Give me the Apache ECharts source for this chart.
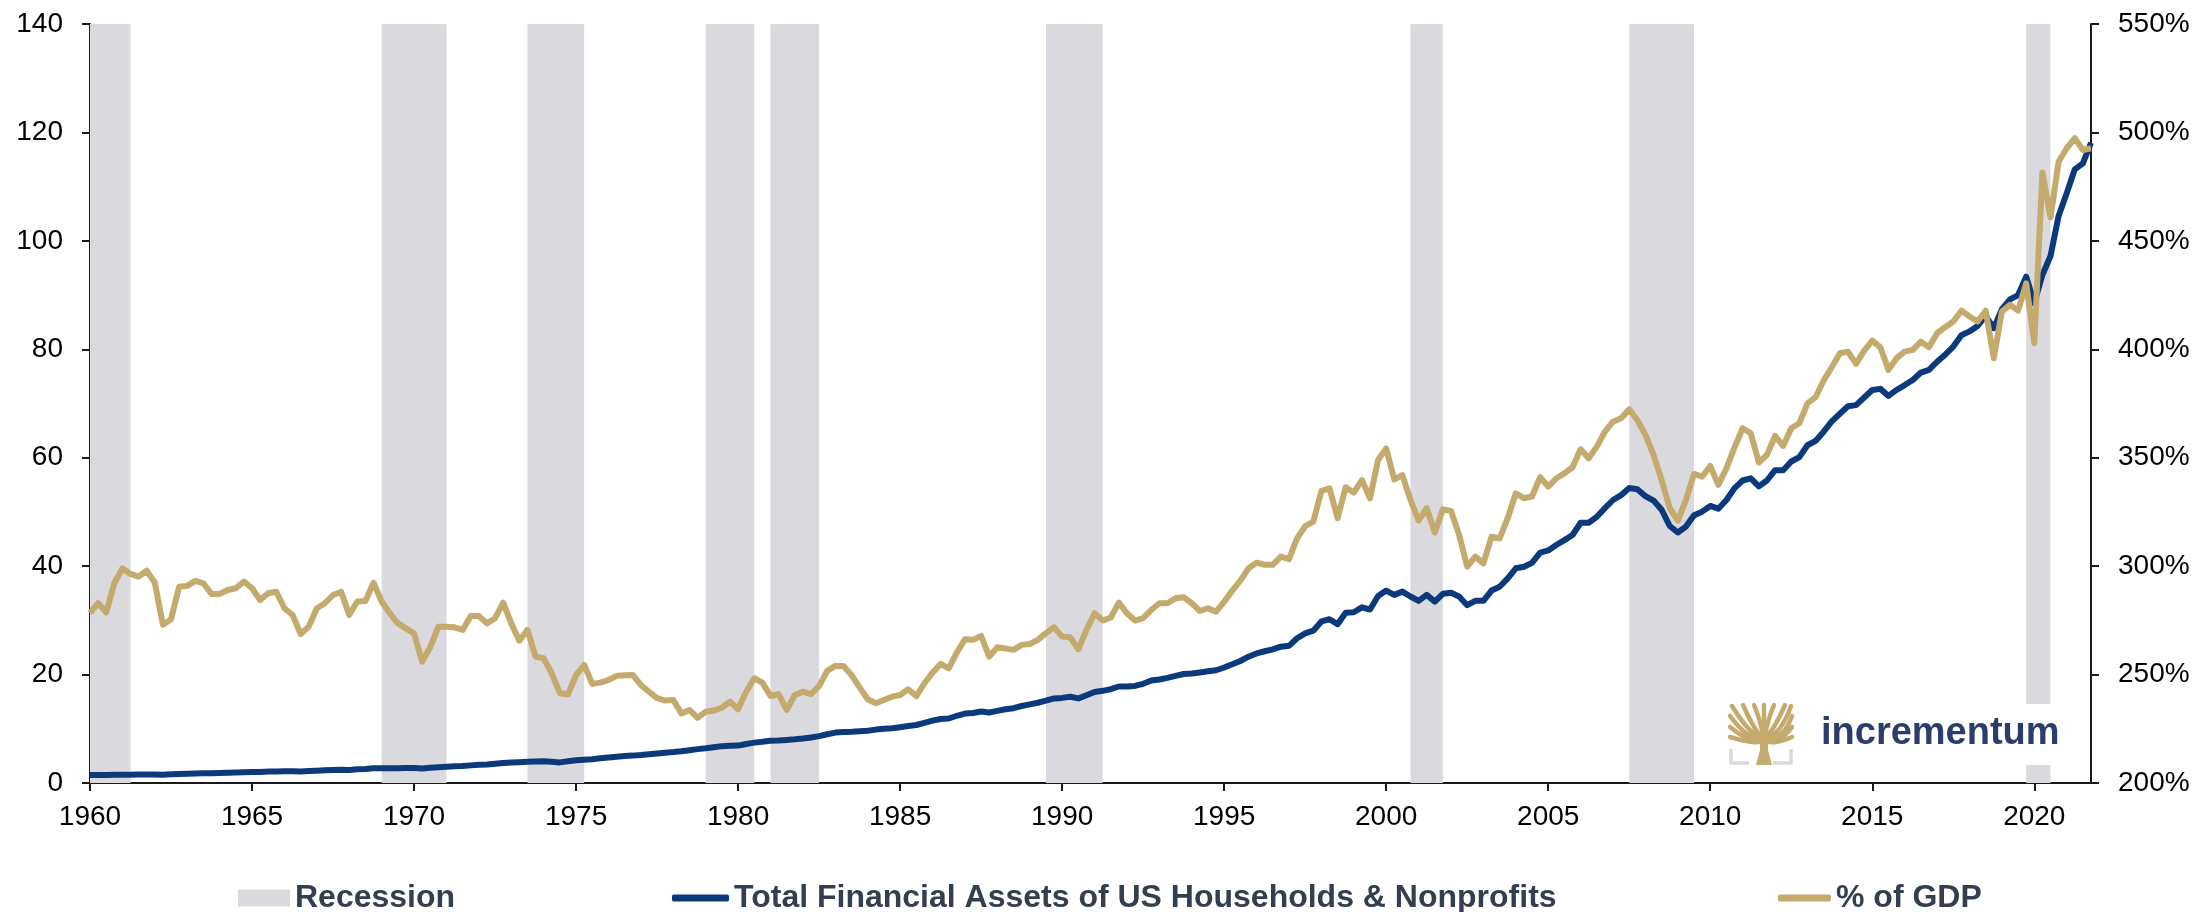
<!DOCTYPE html>
<html>
<head>
<meta charset="utf-8">
<title>Total Financial Assets of US Households &amp; Nonprofits</title>
<script src="https://cdn.jsdelivr.net/npm/echarts@6/dist/echarts.min.js"></script>
<style>
    html, body { margin: 0; padding: 0; background: #fff; }
    #chart { width: 2198px; height: 912px; }
</style>
</head>
<body>
<div id="chart"></div>
<script>
// quarterly observations, 1960Q1 .. 2021Q4
const startYear = 1960;

// total financial assets, USD trillions (left axis)
const assets = [
    1.48, 1.48, 1.48, 1.5, 1.52, 1.54, 1.55, 1.57, 1.58, 1.5,
    1.6, 1.68, 1.72, 1.76, 1.8, 1.82, 1.85, 1.9, 1.94, 2.0,
    2.05, 2.05, 2.1, 2.12, 2.15, 2.17, 2.12, 2.2, 2.28, 2.34,
    2.4, 2.45, 2.4, 2.52, 2.58, 2.7, 2.72, 2.74, 2.74, 2.76,
    2.78, 2.68, 2.8, 2.9, 3.0, 3.08, 3.12, 3.25, 3.35, 3.4,
    3.55, 3.7, 3.8, 3.85, 3.9, 3.95, 4.0, 3.9, 3.8, 4.0,
    4.2, 4.3, 4.4, 4.55, 4.7, 4.85, 5.0, 5.05, 5.15, 5.3,
    5.45, 5.6, 5.7, 5.85, 6.05, 6.25, 6.4, 6.6, 6.8, 6.85,
    6.9, 7.2, 7.45, 7.6, 7.8, 7.85, 7.95, 8.05, 8.2, 8.4,
    8.65, 9.0, 9.3, 9.4, 9.45, 9.55, 9.65, 9.85, 10.0, 10.1,
    10.3, 10.5, 10.7, 11.1, 11.5, 11.8, 11.9, 12.4, 12.8, 12.9,
    13.2, 13.0, 13.3, 13.6, 13.8, 14.2, 14.5, 14.8, 15.2, 15.6,
    15.7, 15.9, 15.6, 16.2, 16.8, 17.0, 17.3, 17.8, 17.8, 17.9,
    18.3, 18.9, 19.1, 19.4, 19.75, 20.1, 20.2, 20.4, 20.6, 20.8,
    21.3, 21.9, 22.5, 23.3, 23.9, 24.3, 24.66, 25.15, 25.3, 26.7,
    27.6, 28.1, 29.8, 30.2, 29.3, 31.4, 31.5, 32.4, 32.0, 34.5,
    35.5, 34.7, 35.3, 34.4, 33.6, 34.7, 33.45, 34.9, 35.1, 34.4,
    32.8, 33.6, 33.6, 35.5, 36.2, 37.75, 39.6, 39.9, 40.6, 42.5,
    42.9, 43.9, 44.8, 45.75, 48.0, 48.0, 49.1, 50.7, 52.2, 53.1,
    54.4, 54.2, 52.9, 52.1, 50.4, 47.4, 46.2, 47.3, 49.4, 50.05,
    51.1, 50.6, 52.2, 54.4, 55.8, 56.2, 54.7, 55.8, 57.7, 57.7,
    59.3, 60.1, 62.3, 63.1, 64.8, 66.7, 68.1, 69.5, 69.7, 71.1,
    72.5, 72.7, 71.4, 72.5, 73.4, 74.35, 75.7, 76.2, 77.7, 79.0,
    80.5, 82.6, 83.3, 84.3, 86.15, 83.9, 87.4, 89.2, 90.0, 93.4,
    88.5, 93.7, 97.2, 104.6, 108.8, 113.2, 114.3, 118.1
];

// same assets as % of GDP (right axis)
const pctGdp = [
    278.3, 282.9, 278.6, 292.1, 299.0, 296.4, 295.2, 297.9, 292.4, 272.9,
    275.5, 290.5, 290.9, 293.2, 292.1, 287.2, 287.2, 289.0, 289.8, 292.9,
    289.8, 284.4, 287.5, 288.2, 280.6, 277.5, 268.7, 272.1, 280.6, 282.9,
    286.7, 288.2, 277.5, 283.7, 283.9, 292.4, 283.7, 278.3, 273.6, 271.3,
    269.0, 256.0, 262.6, 272.1, 272.1, 271.8, 270.6, 277.0, 277.0, 273.6,
    276.0, 283.2, 273.6, 265.6, 270.6, 258.3, 257.5, 250.6, 241.4, 240.9,
    249.8, 254.4, 245.7, 246.3, 247.5, 249.4, 249.7, 249.8, 245.2, 242.1,
    239.1, 238.0, 238.3, 232.1, 233.7, 230.0, 232.9, 233.4, 234.7, 237.5,
    234.0, 242.1, 248.3, 246.3, 240.1, 241.0, 233.7, 240.6, 242.1, 241.0,
    244.7, 251.7, 254.0, 254.0, 249.8, 244.1, 238.6, 236.8, 238.3, 239.8,
    240.6, 243.2, 240.1, 246.0, 250.9, 254.9, 252.9, 260.1, 266.3, 266.0,
    267.8, 258.3, 262.6, 262.0, 261.4, 263.7, 264.1, 266.0, 269.1, 271.8,
    267.5, 267.2, 261.7, 270.6, 278.3, 274.9, 276.3, 283.2, 278.3, 274.9,
    276.0, 279.8, 282.9, 282.9, 285.2, 285.7, 282.9, 279.3, 280.6, 279.0,
    283.6, 288.7, 293.3, 299.0, 301.6, 300.6, 300.6, 304.4, 303.2, 312.8,
    318.5, 320.5, 334.7, 335.9, 322.1, 336.4, 333.9, 339.7, 331.3, 349.0,
    354.3, 340.0, 342.0, 330.5, 321.0, 326.7, 315.5, 326.2, 325.5, 314.4,
    299.8, 304.4, 301.3, 313.6, 312.8, 322.1, 333.6, 331.3, 332.1, 341.0,
    336.7, 340.5, 342.8, 345.6, 353.9, 349.7, 355.1, 362.0, 366.6, 368.2,
    372.3, 367.4, 360.5, 351.3, 339.7, 326.7, 321.0, 330.5, 342.5, 341.3,
    346.2, 337.5, 345.1, 354.8, 363.6, 361.3, 347.8, 351.3, 360.1, 355.4,
    363.6, 365.9, 375.1, 377.9, 385.6, 391.7, 398.2, 398.9, 393.3, 399.4,
    404.0, 400.9, 390.5, 395.9, 398.9, 399.7, 403.5, 400.9, 407.4, 410.2,
    412.8, 417.8, 415.1, 412.8, 417.8, 395.9, 417.4, 420.5, 417.8, 430.4,
    402.8, 481.5, 460.9, 486.5, 492.7, 497.3, 491.9, 492.7
];

// recession shading, as decimal years
const recessionStart = [1960.0, 1969.0, 1973.5, 1979.0, 1981.0, 1989.5, 2000.75, 2007.5, 2019.75];
const recessionEnd = [1961.25, 1971.0, 1975.25, 1980.5, 1982.5, 1991.25, 2001.75, 2009.5, 2020.5];

const NAME_REC = 'Recession';
const NAME_ASSETS = 'Total Financial Assets of US Households & Nonprofits';
const NAME_PCT = '% of GDP';

const BLUE = '#0B3A7C';
const GOLD = '#C4AA6C';
const GRAY = '#DAD9DD';
const FONT = '"Liberation Sans", Arial, sans-serif';

const quarters = assets.map((v, i) => startYear + i / 4);

const chart = echarts.init(document.getElementById('chart'));

// axis look shared by all three axes
const axisLine = { show: true, lineStyle: { color: '#1a1a1a', width: 2 } };
const axisTick = { show: true, inside: false, length: 8, lineStyle: { color: '#1a1a1a', width: 2 } };
const labelFont = { fontFamily: FONT, fontSize: 28, color: '#000' };
const legendText = { fontFamily: FONT, fontSize: 32, fontWeight: 'bold', color: '#333F50', lineHeight: 34 };

// logo, drawn over a white box like the pasted image in the original
const trunkTop = [1764, 741];
const branchEnds = [
    [[1764, 724], [1764, 705]],
    [[1760, 722], [1754, 705]],
    [[1768, 722], [1774, 705]],
    [[1753, 725], [1743, 705]],
    [[1775, 725], [1785, 705]],
    [[1748, 728], [1732, 706]],
    [[1780, 728], [1791, 706]],
    [[1746, 733], [1730, 716]],
    [[1782, 733], [1792, 716]],
    [[1749, 739], [1730, 727]],
    [[1779, 739], [1792, 727]],
    [[1752, 742], [1730, 737]],
    [[1776, 742], [1792, 737]]
];
const logo = [
    { type: 'rect', z: 100, shape: { x: 1724, y: 704, width: 346, height: 61 }, style: { fill: '#fff' } },
    { type: 'polygon', z: 101, shape: { points: [[1756, 765], [1772, 765], [1768, 750], [1768, 737], [1760, 737], [1760, 750]] }, style: { fill: GOLD } },
    ...branchEnds.map(b => ({
        type: 'polyline', z: 101,
        shape: { points: [trunkTop, b[0], b[1]], smooth: 0.4 },
        style: { stroke: GOLD, lineWidth: 4.5, fill: null, lineCap: 'round' }
    })),
    { type: 'polyline', z: 101, shape: { points: [[1731, 749], [1731, 763], [1749, 763]] }, style: { stroke: '#D9D9D9', lineWidth: 3.5, fill: null } },
    { type: 'polyline', z: 101, shape: { points: [[1791, 749], [1791, 763], [1773, 763]] }, style: { stroke: '#D9D9D9', lineWidth: 3.5, fill: null } },
    {
        type: 'text', z: 101,
        style: { x: 1821, y: 734, text: 'incrementum', font: 'bold 38px ' + FONT, fill: '#2B3D6B', verticalAlign: 'middle' }
    }
];

chart.setOption({
    animation: false,
    backgroundColor: '#fff',
    grid: { left: 90, right: 107, top: 24, bottom: 129, containLabel: false },
    legend: [
        {
            data: [{ name: NAME_REC, icon: 'rect' }], left: 233, top: 876,
            itemWidth: 52, itemHeight: 17, selectedMode: false, textStyle: legendText
        },
        {
            data: [{ name: NAME_ASSETS, icon: 'roundRect' }], left: 667, top: 876,
            itemWidth: 57, itemHeight: 7, selectedMode: false, textStyle: legendText
        },
        {
            data: [{ name: NAME_PCT, icon: 'roundRect' }], left: 1773, top: 876,
            itemWidth: 53, itemHeight: 7, selectedMode: false, textStyle: legendText
        }
    ],
    xAxis: {
        type: 'value',
        min: 1960,
        max: 2021.75,
        interval: 5,
        axisLine: axisLine,
        axisTick: axisTick,
        splitLine: { show: false },
        axisLabel: Object.assign({
            margin: 20,
            showMaxLabel: false,
            formatter: v => (Number.isInteger(v) ? String(v) : '')
        }, labelFont)
    },
    yAxis: [
        {
            type: 'value', position: 'left',
            min: 0, max: 140, interval: 20,
            axisLine: axisLine, axisTick: axisTick,
            splitLine: { show: false },
            axisLabel: Object.assign({ margin: 27 }, labelFont)
        },
        {
            type: 'value', position: 'right',
            min: 200, max: 550, interval: 50,
            axisLine: axisLine, axisTick: axisTick,
            splitLine: { show: false },
            axisLabel: Object.assign({ margin: 27, formatter: '{value}%' }, labelFont)
        }
    ],
    series: [
        {
            name: NAME_REC,
            type: 'line',
            data: [],
            itemStyle: { color: GRAY },
            lineStyle: { color: GRAY },
            markArea: {
                silent: true,
                itemStyle: { color: GRAY, opacity: 1 },
                data: recessionStart.map((s, i) => [{ xAxis: s }, { xAxis: recessionEnd[i] }])
            }
        },
        {
            name: NAME_ASSETS,
            type: 'line',
            yAxisIndex: 0,
            data: quarters.map((q, i) => [q, assets[i]]),
            showSymbol: false,
            itemStyle: { color: BLUE },
            lineStyle: { color: BLUE, width: 6, join: 'round' },
            z: 3
        },
        {
            name: NAME_PCT,
            type: 'line',
            yAxisIndex: 1,
            data: quarters.map((q, i) => [q, pctGdp[i]]),
            showSymbol: false,
            itemStyle: { color: GOLD },
            lineStyle: { color: GOLD, width: 6, join: 'round' },
            z: 4
        }
    ],
    graphic: logo
});
</script>
</body>
</html>
